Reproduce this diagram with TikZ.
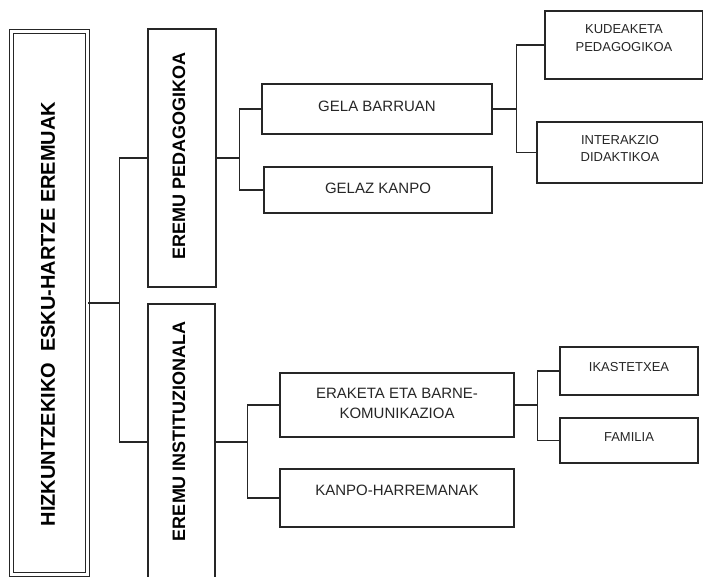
\documentclass[tikz,border=0pt]{standalone}
\usepackage{fontspec}
\setmainfont{Liberation Sans}
\begin{document}
\begin{tikzpicture}[x=1pt,y=-1pt,
  box/.style={draw=black!85, line width=1.4pt, rectangle, inner sep=0pt},
  lnk/.style={draw=black!85, line width=1.4pt},
  tl/.style={font=\fontsize{20}{24}\selectfont\bfseries, rotate=90, inner sep=0pt},
  vl/.style={font=\fontsize{18}{22}\selectfont\bfseries, rotate=90, inner sep=0pt},
  ml/.style={font=\fontsize{15}{20}\selectfont, align=center, inner sep=0pt, text=black!85},
  sl/.style={font=\fontsize{13}{17.5}\selectfont, align=center, inner sep=0pt, text=black!85}]
\useasboundingbox (0,0) rectangle (703,576);
\clip (0,0) rectangle (703,576);
% main box (double border)
\node[draw=black!85, line width=1.4pt, double, double distance=2.2pt, minimum width=76pt, minimum height=543pt, inner sep=0pt] (main) at (49.5,303) {};
\node[tl] (maint) at (48,314) {HIZKUNTZEKIKO\ \ ESKU-HARTZE EREMUAK};
% level 2
\node[box, minimum width=68pt, minimum height=258pt] (ped) at (182,158) {};
\node[vl] (pedt) at (179,156) {EREMU PEDAGOGIKOA};
\node[box, minimum width=67pt, minimum height=276pt] (inst) at (181.5,442) {};
\node[vl] (instt) at (179,431) {EREMU INSTITUZIONALA};
% level 3
\node[box, minimum width=230pt, minimum height=50pt] (gb) at (377,109) {};
\node[ml] (gbt) at ([yshift=3pt]gb.center) {GELA BARRUAN};
\node[box, minimum width=228pt, minimum height=46pt] (gk) at (378,190) {};
\node[ml] (gkt) at ([yshift=2pt]gk.center) {GELAZ KANPO};
\node[box, minimum width=234pt, minimum height=64pt] (er) at (397,405) {};
\node[ml] (ert) at ([yshift=2pt]er.center) {ERAKETA ETA BARNE-\\KOMUNIKAZIOA};
\node[box, minimum width=234pt, minimum height=58pt] (kh) at (397,498) {};
\node[ml] (kht) at ([yshift=8pt]kh.center) {KANPO-HARREMANAK};
% level 4
\node[box, minimum width=158pt, minimum height=68pt] (ku) at (624,45) {};
\node[sl] (kut) at ([yshift=7pt]ku.center) {KUDEAKETA\\PEDAGOGIKOA};
\node[box, minimum width=166pt, minimum height=61pt] (in) at (620,152.5) {};
\node[sl] (int) at ([yshift=4pt]in.center) {INTERAKZIO\\DIDAKTIKOA};
\node[box, minimum width=138pt, minimum height=48pt] (ik) at (629,371) {};
\node[sl] (ikt) at ([yshift=4pt]ik.center) {IKASTETXEA};
\node[box, minimum width=138pt, minimum height=45pt] (fa) at (629,440.5) {};
\node[sl] (fat) at ([yshift=3pt]fa.center) {FAMILIA};
% connectors
\draw[lnk] (main.east) -- ++(31,0) coordinate (j1);
\draw[lnk] (ped.west) -| (j1) |- (inst.west);
\draw[lnk] (ped.east) -- ++(23,0) coordinate (j2);
\draw[lnk] (gb.west) -| (j2) |- (gk.west);
\draw[lnk] (inst.east) -- ++(32,0) coordinate (j3);
\draw[lnk] (er.west) -| (j3) |- (kh.west);
\draw[lnk] (gb.east) -- ++(24,0) coordinate (j4);
\draw[lnk] (ku.west) -| (j4) |- (in.west);
\draw[lnk] (er.east) -- ++(23,0) coordinate (j5);
\draw[lnk] (ik.west) -| (j5) |- (fa.west);
\end{tikzpicture}
\end{document}
